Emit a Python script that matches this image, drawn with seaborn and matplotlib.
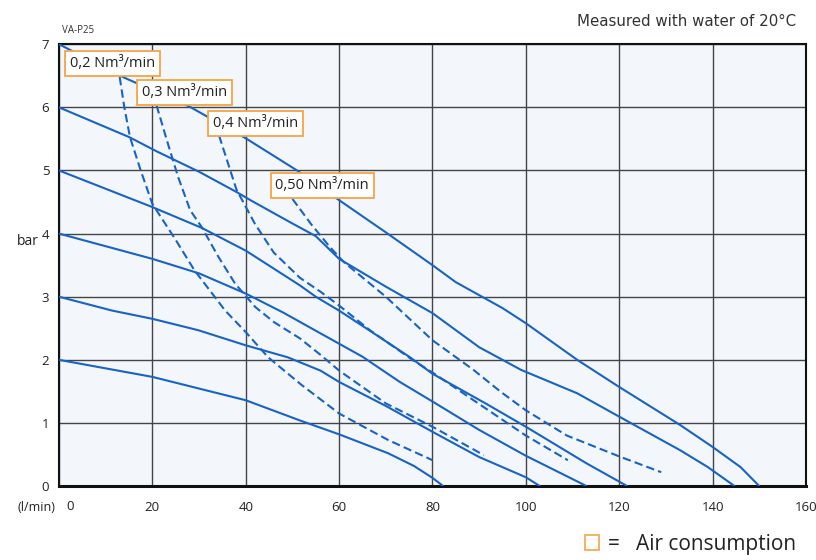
import matplotlib
matplotlib.use("Agg")
import matplotlib.pyplot as plt
from matplotlib.patches import Rectangle
import pandas as pd
import seaborn as sns

# pump curves, VA-P25 - flow (l/min) vs head (bar)
p7_flow = [0, 14, 28, 40, 51, 60, 70, 80, 85, 95, 100, 111, 120, 133, 140, 146, 150]
p7_bar = [7.0, 6.47, 6.01, 5.51, 5.0, 4.53, 4.02, 3.5, 3.23, 2.82, 2.58, 2.0, 1.57, 0.97, 0.62, 0.3, 0.0]

p6_flow = [0, 15, 21, 30, 38, 41, 50, 55, 60, 70, 80, 90, 99, 111, 120, 133, 139, 144.7]
p6_bar = [6.0, 5.53, 5.3, 4.98, 4.66, 4.53, 4.16, 3.96, 3.6, 3.16, 2.74, 2.2, 1.84, 1.47, 1.1, 0.57, 0.3, 0.0]

p5_flow = [0, 20, 30.6, 40, 51.6, 55, 60, 66, 75, 80, 91.6, 100, 113, 121.7]
p5_bar = [5.0, 4.42, 4.09, 3.73, 3.18, 3.0, 2.78, 2.49, 2.05, 1.78, 1.3, 0.94, 0.36, 0.0]

p4_flow = [0, 20, 30, 40, 48, 56, 65, 73, 80, 90, 100, 113]
p4_bar = [4.0, 3.6, 3.37, 3.05, 2.75, 2.42, 2.05, 1.65, 1.34, 0.89, 0.48, 0.0]

p3_flow = [0, 11.4, 20, 29.8, 40, 49, 56, 60, 70, 80, 90, 100, 103]
p3_bar = [3.0, 2.78, 2.65, 2.47, 2.23, 2.04, 1.83, 1.65, 1.27, 0.86, 0.46, 0.14, 0.0]

p2_flow = [0, 20, 40, 51.6, 60, 70.5, 76, 80, 82.3]
p2_bar = [2.0, 1.73, 1.36, 1.04, 0.82, 0.52, 0.32, 0.13, 0.0]

# air consumption (dashed)
a02_flow = [13, 14, 15.2, 17.5, 20, 25, 29, 35.6, 40, 44.8, 52, 60, 70.5, 80]
a02_bar = [6.48, 6.0, 5.53, 5.0, 4.47, 3.9, 3.42, 2.78, 2.44, 2.04, 1.6, 1.15, 0.73, 0.41]

a03_flow = [20.9, 23.1, 25.5, 28.1, 30.6, 34, 37.7, 42, 46, 51.6, 56, 60, 70, 80, 91]
a03_bar = [6.03, 5.48, 4.9, 4.37, 4.1, 3.65, 3.21, 2.84, 2.6, 2.34, 2.08, 1.83, 1.31, 0.94, 0.49]

a04_flow = [34.3, 38, 42, 46, 51.6, 56, 60, 66.6, 75.9, 80, 86, 91.6, 100, 109]
a04_bar = [5.55, 4.7, 4.15, 3.7, 3.3, 3.08, 2.86, 2.47, 1.99, 1.8, 1.5, 1.22, 0.8, 0.41]

a05_flow = [50, 54, 58, 61, 70, 80, 88.8, 94.5, 100, 108.8, 120, 129]
a05_bar = [4.55, 4.15, 3.79, 3.55, 3.0, 2.31, 1.84, 1.5, 1.2, 0.8, 0.47, 0.22]

air_labels = ["0,2 Nm³/min", "0,3 Nm³/min", "0,4 Nm³/min", "0,50 Nm³/min"]
label_x = [11.5, 26.8, 42.0, 56.4]
label_y = [6.7, 6.23, 5.74, 4.76]

x_ticks = [0, 20, 40, 60, 80, 100, 120, 140, 160]
y_ticks = [0, 1, 2, 3, 4, 5, 6, 7]

blue = "#1763c6"
orange = "#f5a447"

sns.set_style("white")
plt.rcParams["font.family"] = ["Open Sans", "DejaVu Sans"]

fig = plt.figure(figsize=(8.16, 5.6), dpi=100)
ax = fig.add_axes([0.0723, 0.132, 0.9154, 0.789])
ax.set_facecolor("#f3f7fc")

solid = [(p7_flow, p7_bar), (p6_flow, p6_bar), (p5_flow, p5_bar),
         (p4_flow, p4_bar), (p3_flow, p3_bar), (p2_flow, p2_bar)]
for fl, br in solid:
    df = pd.DataFrame({"flow": fl, "bar": br})
    sns.lineplot(data=df, x="flow", y="bar", ax=ax, color=blue, lw=1.5,
                 sort=False, estimator=None, zorder=3)

dashed = [(a02_flow, a02_bar), (a03_flow, a03_bar), (a04_flow, a04_bar), (a05_flow, a05_bar)]
for fl, br in dashed:
    df = pd.DataFrame({"flow": fl, "bar": br})
    sns.lineplot(data=df, x="flow", y="bar", ax=ax, color=blue, lw=1.5,
                 sort=False, estimator=None, zorder=3, dashes=False,
                 linestyle=(0, (4, 2)))

for txt, lx, ly in zip(air_labels, label_x, label_y):
    ax.text(lx, ly, txt, ha="center", va="center", fontsize=10.5, color="#222222", zorder=5,
            bbox=dict(boxstyle="square,pad=0.34", fc="white", ec=orange, lw=1.3))

ax.set_xlim(0, 160)
ax.set_ylim(0, 7)
ax.set_xticks(x_ticks)
ax.set_yticks(y_ticks)
# the "0" on the x axis sits a bit right of the axis line, next to "(l/min)"
ax.set_xticklabels([""] + [str(v) for v in x_ticks[1:]], fontsize=9.5, color="#222222")
ax.annotate(str(x_ticks[0]), xy=(x_ticks[0], 0), xycoords="data", xytext=(8, -15),
            textcoords="offset points", ha="center", va="center", fontsize=9.5,
            color="#222222", annotation_clip=False)
ax.set_yticklabels([str(v) for v in y_ticks], fontsize=9.5, color="#222222")
ax.tick_params(length=0, pad=11, axis="x")
ax.tick_params(length=0, pad=7, axis="y")
ax.set_xlabel("")
ax.set_ylabel("")
ax.grid(True, color="#444444", lw=1.0)
ax.set_axisbelow(True)
for s in ax.spines.values():
    s.set_color("#111111")
    s.set_linewidth(1.5)
ax.spines["bottom"].set_linewidth(2.2)

fig.text(0.976, 0.962, "Measured with water of 20°C", ha="right", va="center",
         fontsize=10.8, family="DejaVu Sans", color="#333333")
fig.text(0.076, 0.945, "VA-P25", ha="left", va="center", fontsize=7, color="#333333")
fig.text(0.034, 0.568, "bar", ha="center", va="center", fontsize=10, color="#222222")
fig.text(0.045, 0.094, "(l/min)", ha="center", va="center", fontsize=9, color="#222222")

fig.patches.append(Rectangle((0.717, 0.017), 0.017, 0.027, transform=fig.transFigure,
                             fill=False, ec=orange, lw=1.2))
fig.text(0.745, 0.027, "=   Air consumption", ha="left", va="center", fontsize=15,
         color="#222222")

fig.savefig("out.png", dpi=100)
